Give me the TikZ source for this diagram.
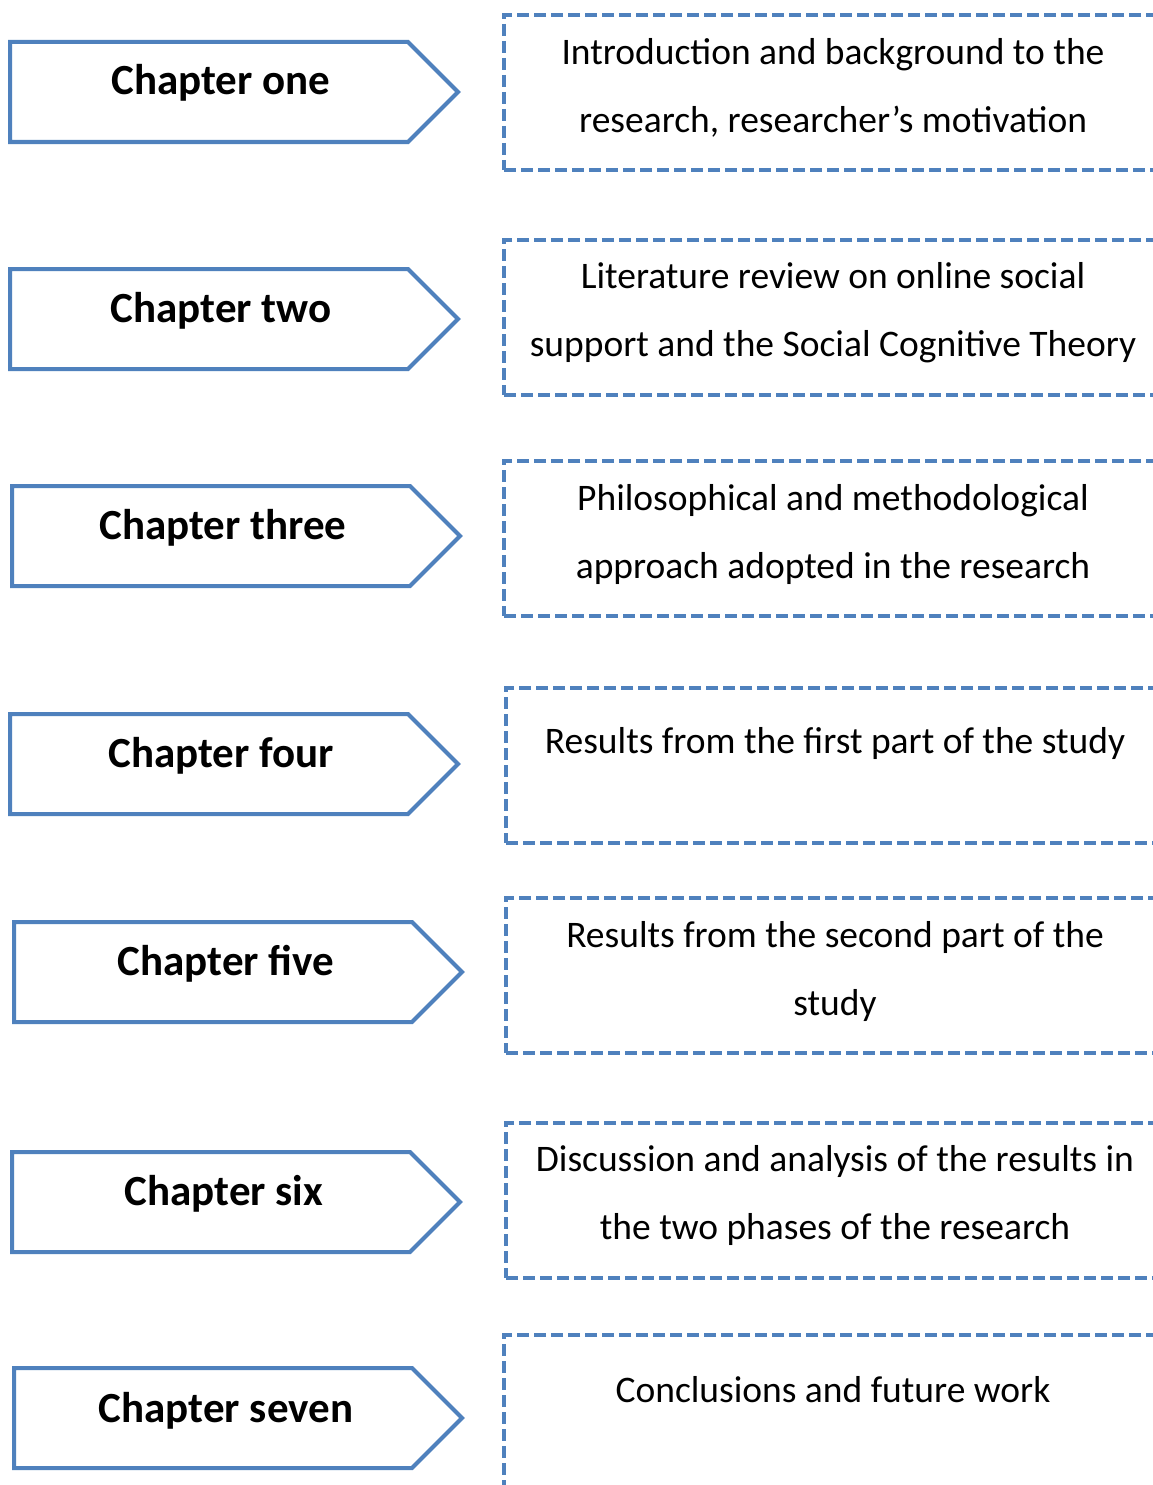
\documentclass[tikz,border=0pt]{standalone}
\usepackage{fontspec}
\setmainfont{Carlito}
\usetikzlibrary{shapes.symbols}
\definecolor{ofblue}{HTML}{4F81BD}
\tikzset{
  chap/.style={draw=ofblue, line width=4pt, fill=white, signal, signal to=east,
    signal pointer angle=90, minimum width=448pt, minimum height=100pt,
    inner sep=0pt, outer sep=0pt, anchor=west},
  chaptext/.style={anchor=base, font=\fontsize{43}{50}\selectfont\bfseries, inner sep=0pt},
  frame/.style={draw=ofblue, line width=4pt, dash pattern=on 12pt off 5pt,
    minimum width=700pt, minimum height=155pt, anchor=north west, inner sep=0pt, outer sep=0pt},
  desc/.style={anchor=base, align=center, inner sep=0pt,
    font=\fontsize{37.5}{68}\selectfont},
}
\begin{document}
\begin{tikzpicture}[x=1pt, y=-1pt]
\useasboundingbox (0,0) rectangle (1153,1485);
\fill[white] (0,0) rectangle (1153,1485);
\clip (0,0) rectangle (1153,1485);

% chapter arrows
\node[chap] (c1) at (10,92) {};
\node[chap] (c2) at (10,319) {};
\node[chap] (c3) at (12,536) {};
\node[chap] (c4) at (10,764) {};
\node[chap] (c5) at (14,972) {};
\node[chap] (c6) at (12,1202) {};
\node[chap] (c7) at (14,1418) {};

\node[chaptext] (c1t) at (221,95) {Chapter one};
\node[chaptext] (c2t) at (221,322) {Chapter two};
\node[chaptext] (c3t) at (223,539) {Chapter three};
\node[chaptext] (c4t) at (221,767) {Chapter four};
\node[chaptext] (c5t) at (226,975) {Chapter five};
\node[chaptext] (c6t) at (224,1205) {Chapter six};
\node[chaptext] (c7t) at (226,1422) {Chapter seven};

% dashed frames
\node[frame] (f1) at (504,15) {};
\node[frame] (f2) at (504,240) {};
\node[frame] (f3) at (504,461) {};
\node[frame] (f4) at (506,688) {};
\node[frame] (f5) at (506,898) {};
\node[frame] (f6) at (506,1123) {};
\node[frame] (f7) at (504,1335) {};

% descriptions (anchor = baseline of last line)
\node[desc] (d1) at (833,132) {Introduction and background to the\\research, researcher’s motivation};
\node[desc] (d2) at (833,356) {Literature review on online social\\support and the Social Cognitive Theory};
\node[desc] (d3) at (833,578) {Philosophical and methodological\\approach adopted in the research};
\node[desc] (d4) at (835,753) {Results from the first part of the study};
\node[desc] (d5) at (835,1015) {Results from the second part of the\\study};
\node[desc] (d6) at (835,1239) {Discussion and analysis of the results in\\the two phases of the research};
\node[desc] (d7) at (833,1402) {Conclusions and future work};
\end{tikzpicture}
\end{document}
